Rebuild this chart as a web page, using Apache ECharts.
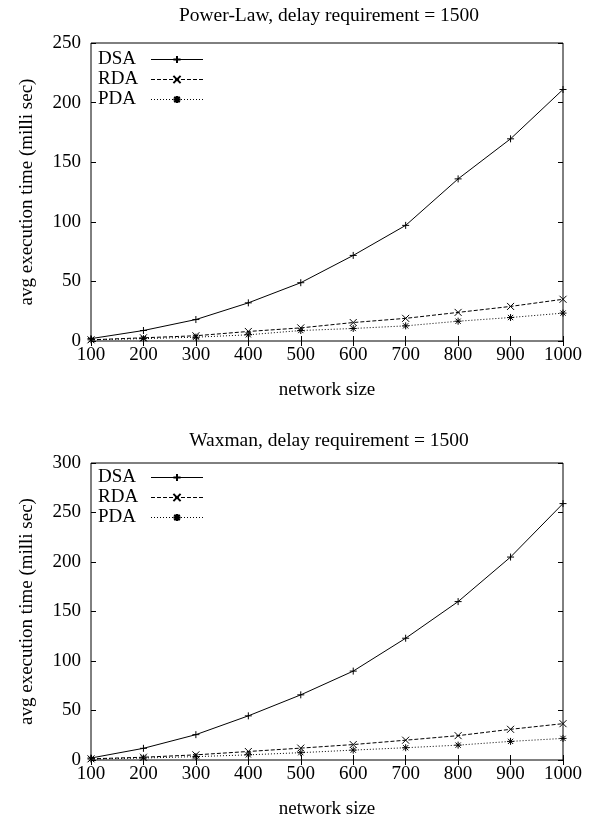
<!DOCTYPE html>
<html>
<head>
<meta charset="utf-8">
<script src="https://cdn.jsdelivr.net/npm/echarts@6/dist/echarts.min.js"></script>
<style>
  html, body { margin: 0; padding: 0; background: #fff; }
  #chart { width: 602px; height: 823px; }
</style>
</head>
<body>
<div id="chart"></div>
<script>
// network sizes (x axis)
const sizes = [100, 200, 300, 400, 500, 600, 700, 800, 900, 1000];

// Power-Law topology
const plDsa = [2, 8.8, 18, 32, 48.9, 71.8, 97, 136, 169.6, 211];
const plRda = [1, 2.7, 4.4, 8, 11, 15.5, 19, 24, 29, 35];
const plPda = [1, 2, 3.2, 5.2, 8.8, 10.5, 12.7, 16.6, 19.7, 23.4];

// Waxman topology
const wxDsa = [2, 11.8, 25.6, 44.6, 65.8, 89.8, 123, 160, 205, 259];
const wxRda = [1.2, 2.8, 5.2, 8.6, 12, 15.6, 20, 24.6, 31, 36.7];
const wxPda = [1, 2, 3.4, 5.2, 7.4, 10, 12.4, 15, 18.8, 21.8];

const names = ['DSA', 'RDA', 'PDA'];
const titles = ['Power-Law, delay requirement = 1500', 'Waxman, delay requirement = 1500'];

const font = 'Liberation Serif';
const fs = 19;

// gnuplot style point markers drawn as strokes
const marks = {
    DSA: 'path://M0,4L8,4M4,0L4,8',
    RDA: 'path://M0,0L8,8M8,0L0,8',
    PDA: 'path://M0,4L8,4M4,0L4,8M1,1L7,7M7,1L1,7'
};
const dashes = { DSA: 'solid', RDA: [4, 2], PDA: [1, 2] };

const pairs = (ys) => sizes.map((x, i) => [x, ys[i]]);

const makeSeries = (name, ys, idx) => ({
    name: name,
    type: 'line',
    xAxisIndex: idx,
    yAxisIndex: idx,
    data: pairs(ys),
    symbol: marks[name],
    symbolSize: 7,
    showAllSymbol: true,
    lineStyle: { color: '#000', width: 1, type: dashes[name] },
    itemStyle: { color: '#000', borderColor: '#000', borderWidth: 1 },
    emphasis: { disabled: true }
});

const grids = [
    { left: 91, top: 43, width: 472, height: 298 },
    { left: 91, top: 463, width: 472, height: 297 }
];
const yMax = [250, 300];

const tickStyle = { inside: true, length: 5, lineStyle: { color: '#000' } };

const xAxes = [];
const yAxes = [];
grids.forEach((g, i) => {
    // main bottom / left axes
    xAxes.push({
        gridIndex: i, type: 'value', min: 100, max: 1000, interval: 100,
        name: 'network size', nameLocation: 'middle', nameGap: 40,
        nameTextStyle: { fontFamily: font, fontSize: fs, color: '#000' },
        axisLine: { show: false },
        axisTick: tickStyle,
        axisLabel: { fontFamily: font, fontSize: fs, color: '#000', margin: 5, formatter: (v) => String(v) },
        splitLine: { show: false }
    });
    yAxes.push({
        gridIndex: i, type: 'value', min: 0, max: yMax[i], interval: 50,
        name: 'avg execution time (milli sec)', nameLocation: 'middle', nameGap: 54,
        nameTextStyle: { fontFamily: font, fontSize: fs, color: '#000' },
        axisLine: { show: false },
        axisTick: tickStyle,
        axisLabel: { fontFamily: font, fontSize: fs, color: '#000', margin: 10 },
        splitLine: { show: false }
    });
});
grids.forEach((g, i) => {
    // mirrored ticks on top / right
    xAxes.push({
        gridIndex: i, type: 'value', position: 'top', min: 100, max: 1000, interval: 100,
        axisLine: { show: false }, axisTick: tickStyle,
        axisLabel: { show: false }, splitLine: { show: false }
    });
    yAxes.push({
        gridIndex: i, type: 'value', position: 'right', min: 0, max: yMax[i], interval: 50,
        axisLine: { show: false }, axisTick: tickStyle,
        axisLabel: { show: false }, splitLine: { show: false }
    });
});

const option = {
    animation: false,
    backgroundColor: '#fff',
    title: titles.map((t, i) => ({
        text: t,
        left: 324,
        top: i === 0 ? 1 : 426,
        textAlign: 'center',
        textStyle: { fontFamily: font, fontSize: 19.5, fontWeight: 'normal', color: '#000' }
    })),
    legend: [50, 468].map((top) => ({
        data: names,
        orient: 'vertical',
        left: 98,
        top: top,
        padding: 0,
        align: 'right',
        itemWidth: 52,
        itemHeight: 9,
        itemGap: 1,
        formatter: '{n|{name}}',
        textStyle: {
            fontFamily: font, fontSize: fs, color: '#000',
            rich: { n: { width: 48, lineHeight: 19, align: 'left', fontFamily: font, fontSize: fs, color: '#000' } }
        },
        lineStyle: { width: 1 },
        selectedMode: false
    })),
    grid: grids.map((g) => Object.assign({ show: true, borderColor: '#000', borderWidth: 1, backgroundColor: 'transparent' }, g)),
    xAxis: xAxes,
    yAxis: yAxes,
    series: [
        makeSeries('DSA', plDsa, 0),
        makeSeries('RDA', plRda, 0),
        makeSeries('PDA', plPda, 0),
        makeSeries('DSA', wxDsa, 1),
        makeSeries('RDA', wxRda, 1),
        makeSeries('PDA', wxPda, 1)
    ]
};

const myChart = echarts.init(document.getElementById('chart'));
myChart.setOption(option);
</script>
</body>
</html>
